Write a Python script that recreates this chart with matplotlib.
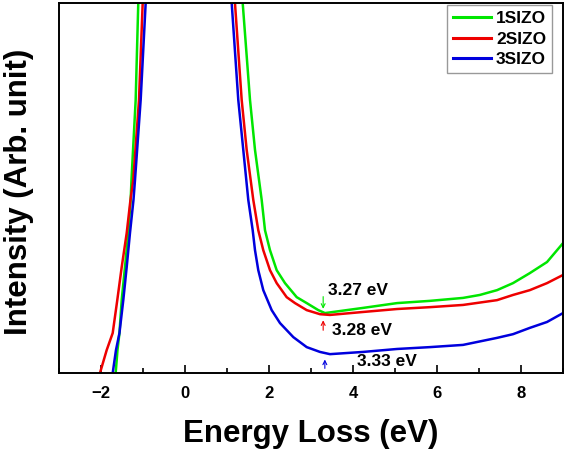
import matplotlib
matplotlib.use("Agg")
import matplotlib.pyplot as plt
from matplotlib.ticker import MultipleLocator

plt.rcParams['font.family'] = ['Liberation Sans', 'DejaVu Sans']
plt.rcParams['font.weight'] = 'bold'

# Energy loss (eV) and intensity (arb. units, 0-100 visible window; zero-loss peak clipped)
e_1sizo = [-1.650, -1.607, -1.560, -1.507, -1.429, -1.350, -1.293, -1.274, -1.174, -1.112, 0.0,
           1.374, 1.548, 1.667, 1.826, 1.905, 2.024, 2.183, 2.381, 2.660, 2.898, 3.174, 3.333,
           4.24, 5.05, 5.83, 6.62, 7.02, 7.43, 7.81, 8.21, 8.62, 9.0]
i_1sizo = [0.0, 6.2, 10.8, 19.7, 28.6, 37.8, 46.8, 52.2, 73.8, 100.0, 150.0,
           100.0, 73.8, 60.3, 46.8, 38.6, 33.2, 27.8, 24.3, 20.5, 18.9, 17.0, 16.2,
           17.6, 18.9, 19.5, 20.3, 21.1, 22.4, 24.3, 27.0, 30.0, 35.1]

e_2sizo = [-2.024, -1.864, -1.721, -1.612, -1.507, -1.388, -1.298, -1.231, -1.095, -1.007, 0.0,
           1.190, 1.350, 1.469, 1.626, 1.745, 1.864, 2.024, 2.183, 2.421, 2.619, 2.898, 3.214, 3.452,
           4.24, 5.05, 5.83, 6.62, 7.43, 7.81, 8.21, 8.62, 9.0]
i_2sizo = [0.0, 6.2, 10.8, 19.7, 28.6, 37.8, 46.8, 52.2, 73.8, 100.0, 150.0,
           100.0, 73.8, 60.3, 46.8, 38.6, 33.2, 27.8, 24.3, 20.5, 18.9, 17.0, 15.9, 15.7,
           16.5, 17.3, 17.8, 18.4, 19.7, 21.1, 22.4, 24.3, 26.5]

e_3sizo = [-1.721, -1.643, -1.560, -1.469, -1.388, -1.310, -1.226, -1.190, -1.055, -0.936, 0.0,
           1.112, 1.269, 1.388, 1.507, 1.612, 1.667, 1.745, 1.864, 2.064, 2.262, 2.579, 2.898, 3.214, 3.452,
           4.24, 5.05, 5.83, 6.62, 7.43, 7.81, 8.21, 8.62, 9.0]
i_3sizo = [0.0, 6.2, 10.8, 19.7, 28.6, 37.8, 46.8, 52.2, 73.8, 100.0, 150.0,
           100.0, 73.8, 60.3, 46.8, 38.6, 33.2, 27.8, 22.4, 17.0, 13.5, 9.7, 7.0, 5.7, 5.1,
           5.7, 6.5, 7.0, 7.6, 9.5, 10.5, 12.2, 13.8, 16.2]

labels = ['1SIZO', '2SIZO', '3SIZO']
colors = ['#00e600', '#ee0000', '#0000dd']

# band gap annotations
gap_labels = ['3.27 eV', '3.28 eV', '3.33 eV']
gap_energy = [3.29, 3.29, 3.33]
arrow_tail = [21.4, 10.8, 0.5]
arrow_head = [16.6, 15.0, 4.4]
text_pos = [(3.40, 22.2), (3.50, 11.6), (4.10, 3.2)]

fig = plt.figure(figsize=(5.66, 4.51), dpi=100)
ax = fig.add_axes([0.1042, 0.1729, 0.8905, 0.8204])

for e, i, lab, c in zip([e_1sizo, e_2sizo, e_3sizo], [i_1sizo, i_2sizo, i_3sizo], labels, colors):
    ax.plot(e, i, color=c, lw=1.8, label=lab, solid_joinstyle='round')

for lab, eg, t0, t1, tp, c in zip(gap_labels, gap_energy, arrow_tail, arrow_head, text_pos, colors):
    ax.annotate('', xy=(eg, t1), xytext=(eg, t0),
                arrowprops=dict(arrowstyle='->', color=c, lw=0.8, mutation_scale=7))
    ax.text(tp[0], tp[1], lab, fontsize=12.5, fontweight='bold', va='center', ha='left')

ax.set_xlim(-3, 9)
ax.set_ylim(0, 100)
ax.xaxis.set_major_locator(MultipleLocator(2))
ax.xaxis.set_minor_locator(MultipleLocator(1))
ax.set_yticks([])
ax.tick_params(axis='x', which='major', direction='in', length=6, width=1.2, labelsize=12, pad=9)
ax.tick_params(axis='x', which='minor', direction='in', length=3.5, width=1.2)
for lab in ax.get_xticklabels():
    lab.set_fontweight('bold')
for s in ax.spines.values():
    s.set_linewidth(1.4)

ax.set_xlabel('Energy Loss (eV)', fontsize=22.5, fontweight='bold')
ax.set_ylabel('Intensity (Arb. unit)', fontsize=22.5, fontweight='bold')
ax.xaxis.set_label_coords(0.5, -0.124)
ax.yaxis.set_label_coords(-0.05, 0.49)

leg = ax.legend(loc='upper right', bbox_to_anchor=(0.978, 0.9946), fontsize=12.5, frameon=True,
                fancybox=False, handlelength=2.2, handletextpad=0.3, borderpad=0.33,
                labelspacing=0.32, borderaxespad=0.0)
leg.get_frame().set_edgecolor('#808080')
leg.get_frame().set_linewidth(1.0)
for t in leg.get_texts():
    t.set_fontweight('bold')
for h in leg.get_lines():
    h.set_linewidth(2.2)

fig.savefig('out.png', dpi=100)
